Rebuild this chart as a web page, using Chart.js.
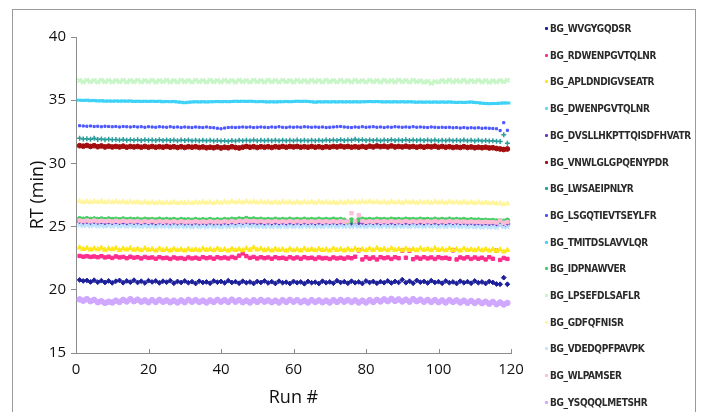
<!DOCTYPE html>
<html><head><meta charset="utf-8">
<script src="https://cdn.jsdelivr.net/npm/chart.js@4.4.1/dist/chart.umd.min.js"></script>
<style>
html,body{margin:0;padding:0;background:#fff;}
#wrap{position:relative;width:702px;height:412px;overflow:hidden;background:#fff;}
#frame{position:absolute;left:12px;top:9px;width:684px;height:430px;border:1px solid #9a9a9a;box-sizing:border-box;}
#c{position:absolute;left:0;top:0;}
#legend{position:absolute;left:550px;top:0;font-family:"DejaVu Sans Condensed","DejaVu Sans",sans-serif;font-weight:bold;font-size:10px;letter-spacing:-0.35px;color:#2a2a2a;}
.li{position:absolute;left:0;white-space:nowrap;line-height:12px;}
.mk{position:absolute;left:-5px;top:4px;width:3px;height:3px;border-radius:1px;}
.tx{position:absolute;left:0;top:0;}
</style></head>
<body><div id="wrap"><div id="frame"></div><canvas id="c" width="702" height="412"></canvas><div id="legend"></div></div>
<script>
const seriesNames = ["BG_WVGYGQDSR","BG_RDWENPGVTQLNR","BG_APLDNDIGVSEATR","BG_DWENPGVTQLNR","BG_DVSLLHKPTTQISDFHVATR","BG_VNWLGLGPQENYPDR","BG_LWSAEIPNLYR","BG_LSGQTIEVTSEYLFR","BG_TMITDSLAVVLQR","BG_IDPNAWVER","BG_LPSEFDLSAFLR","BG_GDFQFNISR","BG_VDEDQPFPAVPK","BG_WLPAMSER","BG_YSQQQLMETSHR"];
const xTicks = [0,20,40,60,80,100,120];
const yTicks = [15,20,25,30,35,40];

const WVGYGQDSR = [20.78,20.70,20.74,20.62,20.76,20.60,20.72,20.58,20.70,20.55,
20.68,20.74,20.56,20.70,20.60,20.76,20.58,20.68,20.54,20.72,
20.62,20.70,20.55,20.68,20.60,20.72,20.52,20.66,20.58,20.70,
20.56,20.64,20.50,20.68,20.58,20.62,20.52,20.70,20.60,20.66,
20.55,20.72,20.58,20.64,20.52,20.68,20.56,20.62,20.50,20.66,
20.58,20.70,20.54,20.64,20.50,20.68,20.56,20.60,20.50,20.66,
20.56,20.62,20.48,20.66,20.56,20.60,20.50,20.68,20.56,20.62,
20.52,20.72,20.58,20.64,20.52,20.68,20.56,20.62,20.50,20.70,
20.58,20.66,20.52,20.64,20.56,20.70,20.54,20.66,20.58,20.80,
20.56,20.68,20.52,20.74,20.60,20.66,20.54,20.72,20.58,20.64,
20.52,20.70,20.56,20.62,20.50,20.68,20.56,20.64,20.52,20.70,
20.56,20.62,20.50,20.66,20.58,20.46,20.44,20.96,20.44];
const RDWENPGVTQLNR = [22.68,22.62,22.66,22.60,22.64,22.58,22.66,22.56,22.62,22.52,
22.64,22.56,22.60,22.50,22.62,22.54,22.58,22.48,22.60,22.52,
22.56,22.46,22.58,22.50,22.54,22.44,22.56,22.48,22.52,22.44,
22.56,22.48,22.54,22.46,22.58,22.50,22.56,22.46,22.58,22.50,
22.56,22.48,22.60,22.52,22.70,22.88,22.66,22.52,22.60,22.48,
22.58,22.50,22.56,22.46,22.58,22.50,22.54,22.46,22.58,22.48,
22.56,22.46,22.58,22.50,22.54,22.44,22.56,22.48,22.52,22.44,
22.56,22.48,22.54,22.46,22.56,22.50,22.62,23.12,22.40,22.58,
22.46,22.56,22.40,22.58,22.50,22.56,22.44,22.58,22.50,23.10,
22.54,23.10,22.42,22.56,22.46,22.58,22.48,22.56,22.44,22.58,
22.50,22.54,22.46,23.12,22.40,22.56,22.48,22.58,22.44,22.56,
22.46,22.54,22.40,22.58,22.46,23.10,22.36,22.52,22.44];
const APLDNDIGVSEATR = [23.34,23.22,23.30,23.18,23.28,23.20,23.32,23.16,23.26,23.20,
23.30,23.14,23.26,23.18,23.30,23.16,23.24,23.12,23.28,23.16,
23.22,23.10,23.26,23.14,23.22,23.10,23.24,23.14,23.20,23.10,
23.24,23.14,23.20,23.12,23.26,23.16,23.22,23.12,23.26,23.14,
23.20,23.10,23.24,23.14,23.22,23.12,23.28,23.16,23.34,23.18,
23.26,23.12,23.22,23.10,23.24,23.14,23.20,23.10,23.24,23.12,
23.20,23.10,23.26,23.14,23.22,23.12,23.24,23.14,23.20,23.10,
23.26,23.14,23.22,23.10,23.24,23.12,23.26,23.14,23.20,23.12,
23.26,23.14,23.30,23.16,23.24,23.12,23.28,23.16,23.22,23.12,
23.26,23.14,23.22,23.12,23.28,23.16,23.24,23.12,23.30,23.14,
23.22,23.12,23.26,23.14,23.22,23.10,23.26,23.14,23.20,23.12,
23.24,23.12,23.22,23.10,23.20,23.08,23.18,23.02,23.14];
const DWENPGVTQLNR = [25.24,25.20,25.26,25.18,25.24,25.20,25.22,25.16,25.24,25.18,
25.22,25.16,25.24,25.18,25.20,25.14,25.22,25.16,25.20,25.14,
25.20,25.14,25.22,25.16,25.20,25.12,25.20,25.14,25.18,25.12,
25.16,25.10,25.18,25.12,25.16,25.10,25.18,25.12,25.16,25.12,
25.18,25.12,25.20,25.14,25.18,25.12,25.22,25.14,25.20,25.14,
25.18,25.12,25.20,25.14,25.18,25.12,25.20,25.14,25.18,25.12,
25.20,25.14,25.18,25.12,25.20,25.14,25.18,25.12,25.20,25.14,
25.18,25.12,25.20,25.14,25.18,25.12,25.22,25.14,25.20,25.12,
25.18,25.12,25.20,25.14,25.18,25.12,25.20,25.14,25.18,25.12,
25.20,25.14,25.18,25.12,25.20,25.14,25.18,25.12,25.20,25.14,
25.18,25.12,25.20,25.14,25.18,25.12,25.20,25.14,25.18,25.12,
25.16,25.10,25.16,25.10,25.14,25.08,25.12,25.06,25.14];
const DVSLLHKPTTQISDFHVATR = [25.42,25.34,25.40,25.32,25.38,25.30,25.40,25.32,25.36,25.30,
25.38,25.30,25.36,25.28,25.38,25.30,25.34,25.28,25.36,25.30,
25.34,25.26,25.34,25.28,25.32,25.26,25.34,25.26,25.32,25.24,
25.32,25.26,25.30,25.24,25.32,25.26,25.30,25.24,25.32,25.26,
25.32,25.26,25.34,25.28,25.36,25.30,25.40,25.32,25.36,25.28,
25.34,25.28,25.32,25.26,25.34,25.28,25.32,25.26,25.34,25.28,
25.32,25.26,25.34,25.28,25.32,25.26,25.34,25.28,25.32,25.26,
25.34,25.28,25.32,25.26,25.34,25.26,25.22,25.30,25.20,25.32,
25.34,25.28,25.32,25.26,25.34,25.28,25.32,25.26,25.34,25.28,
25.32,25.26,25.34,25.28,25.32,25.26,25.34,25.28,25.32,25.26,
25.34,25.28,25.32,25.26,25.34,25.28,25.32,25.26,25.30,25.24,
25.30,25.24,25.28,25.22,25.26,25.20,25.24,25.14,25.20];
const VNWLGLGPQENYPDR = [31.40,31.36,31.42,31.34,31.40,31.32,31.38,31.30,31.36,31.30,
31.34,31.30,31.36,31.28,31.34,31.30,31.34,31.28,31.34,31.28,
31.34,31.28,31.32,31.28,31.34,31.28,31.32,31.26,31.32,31.26,
31.32,31.28,31.32,31.26,31.30,31.24,31.28,31.24,31.30,31.22,
31.28,31.24,31.32,31.26,31.22,31.28,31.34,31.28,31.32,31.26,
31.32,31.28,31.32,31.26,31.32,31.28,31.34,31.28,31.34,31.30,
31.34,31.28,31.32,31.28,31.34,31.28,31.32,31.26,31.32,31.28,
31.34,31.30,31.36,31.30,31.34,31.28,31.32,31.28,31.34,31.28,
31.36,31.30,31.38,31.32,31.36,31.30,31.38,31.30,31.34,31.30,
31.36,31.30,31.34,31.28,31.34,31.28,31.34,31.30,31.36,31.28,
31.34,31.28,31.32,31.26,31.30,31.26,31.32,31.26,31.30,31.24,
31.28,31.24,31.28,31.22,31.24,31.18,31.14,31.10,31.14];
const LWSAEIPNLYR = [31.98,31.94,31.96,31.92,31.98,31.90,31.94,31.88,31.92,31.88,
31.90,31.86,31.90,31.84,31.88,31.84,31.88,31.82,31.88,31.84,
31.86,31.82,31.88,31.82,31.86,31.82,31.86,31.80,31.86,31.82,
31.86,31.80,31.84,31.80,31.84,31.80,31.84,31.78,31.82,31.78,
31.80,31.76,31.82,31.78,31.84,31.80,31.84,31.80,31.86,31.80,
31.84,31.80,31.84,31.80,31.84,31.80,31.84,31.80,31.84,31.80,
31.86,31.80,31.84,31.80,31.84,31.80,31.84,31.80,31.86,31.82,
31.86,31.82,31.88,31.82,31.86,31.84,31.92,31.84,31.88,31.82,
31.86,31.82,31.86,31.80,31.86,31.82,31.88,31.82,31.86,31.82,
31.88,31.82,31.86,31.82,31.86,31.82,31.86,31.80,31.86,31.80,
31.84,31.80,31.86,31.80,31.84,31.80,31.86,31.80,31.84,31.78,
31.84,31.78,31.82,31.78,31.80,31.76,31.74,32.26,31.60];
const LSGQTIEVTSEYLFR = [32.98,32.96,32.94,32.96,32.92,32.94,32.90,32.94,32.92,32.90,
32.92,32.88,32.92,32.90,32.88,32.92,32.88,32.90,32.86,32.90,
32.88,32.86,32.90,32.88,32.86,32.90,32.86,32.88,32.84,32.88,
32.86,32.84,32.88,32.86,32.84,32.88,32.84,32.82,32.78,32.74,
32.80,32.84,32.86,32.84,32.86,32.88,32.86,32.88,32.84,32.86,
32.88,32.86,32.84,32.88,32.86,32.90,32.86,32.84,32.88,32.86,
32.88,32.86,32.90,32.88,32.86,32.88,32.86,32.88,32.84,32.86,
32.88,32.90,32.92,32.88,32.86,32.84,32.88,32.86,32.90,32.86,
32.88,32.90,32.86,32.88,32.84,32.88,32.86,32.90,32.88,32.86,
32.88,32.86,32.90,32.86,32.88,32.86,32.84,32.88,32.86,32.84,
32.86,32.84,32.86,32.82,32.84,32.80,32.84,32.80,32.82,32.80,
32.82,32.78,32.80,32.78,32.76,32.74,32.60,33.22,32.62];
const TMITDSLAVVLQR = [35.00,34.98,35.00,34.96,34.98,34.94,34.96,34.92,34.94,34.92,
34.94,34.92,34.94,34.92,34.94,34.90,34.92,34.90,34.92,34.90,
34.92,34.90,34.92,34.88,34.90,34.88,34.90,34.86,34.84,34.80,
34.84,34.86,34.88,34.86,34.88,34.86,34.88,34.88,34.90,34.88,
34.90,34.88,34.90,34.92,34.90,34.92,34.90,34.92,34.90,34.88,
34.90,34.88,34.86,34.88,34.86,34.88,34.88,34.90,34.88,34.90,
34.92,34.90,34.92,34.90,34.88,34.84,34.88,34.86,34.88,34.86,
34.88,34.86,34.88,34.86,34.88,34.86,34.88,34.86,34.88,34.88,
34.90,34.88,34.90,34.88,34.86,34.88,34.86,34.88,34.86,34.88,
34.86,34.88,34.86,34.84,34.86,34.84,34.86,34.84,34.86,34.84,
34.86,34.84,34.86,34.84,34.82,34.84,34.82,34.84,34.86,34.82,
34.80,34.76,34.74,34.72,34.74,34.74,34.76,34.78,34.78];
const IDPNAWVER = [25.62,25.58,25.62,25.56,25.60,25.56,25.60,25.54,25.60,25.56,
25.58,25.54,25.60,25.54,25.58,25.54,25.58,25.52,25.58,25.54,
25.56,25.52,25.58,25.52,25.56,25.52,25.56,25.50,25.56,25.52,
25.54,25.50,25.56,25.50,25.54,25.50,25.56,25.50,25.54,25.50,
25.56,25.52,25.58,25.54,25.60,25.56,25.64,25.56,25.60,25.54,
25.58,25.52,25.56,25.52,25.58,25.52,25.56,25.52,25.58,25.52,
25.56,25.52,25.58,25.52,25.56,25.52,25.58,25.52,25.56,25.52,
25.58,25.52,25.56,25.50,25.30,25.52,25.30,25.54,25.58,25.52,
25.56,25.52,25.58,25.54,25.56,25.52,25.58,25.54,25.56,25.52,
25.58,25.54,25.56,25.52,25.58,25.54,25.56,25.52,25.58,25.52,
25.56,25.52,25.58,25.52,25.56,25.52,25.56,25.50,25.54,25.50,
25.52,25.48,25.50,25.46,25.48,25.44,25.46,25.42,25.50];
const LPSEFDLSAFLR = [36.56,36.44,36.58,36.46,36.56,36.44,36.58,36.46,36.56,36.44,
36.56,36.46,36.58,36.44,36.56,36.46,36.58,36.44,36.56,36.46,
36.58,36.44,36.56,36.46,36.58,36.44,36.56,36.44,36.58,36.46,
36.56,36.44,36.58,36.46,36.56,36.44,36.58,36.46,36.56,36.44,
36.58,36.46,36.56,36.44,36.58,36.46,36.56,36.44,36.58,36.46,
36.56,36.44,36.58,36.46,36.56,36.44,36.58,36.46,36.56,36.44,
36.58,36.46,36.56,36.44,36.58,36.46,36.56,36.44,36.58,36.46,
36.56,36.44,36.58,36.46,36.56,36.44,36.58,36.46,36.56,36.44,
36.58,36.46,36.56,36.44,36.58,36.46,36.56,36.44,36.58,36.46,
36.56,36.44,36.58,36.46,36.54,36.42,36.50,36.34,36.48,36.44,
36.56,36.46,36.58,36.44,36.56,36.46,36.58,36.44,36.56,36.46,
36.58,36.44,36.56,36.42,36.54,36.44,36.56,36.46,36.58];
const GDFQFNISR = [27.02,26.94,27.00,26.92,27.00,26.94,27.02,26.92,26.98,26.92,
27.00,26.92,26.98,26.90,26.98,26.90,26.96,26.88,26.96,26.88,
26.94,26.86,26.94,26.86,26.92,26.86,26.94,26.86,26.92,26.86,
26.92,26.86,26.94,26.88,26.96,26.88,26.94,26.86,26.96,26.88,
26.98,26.90,27.00,26.92,26.98,26.90,27.02,26.92,26.98,26.90,
26.98,26.90,26.96,26.88,26.96,26.88,26.98,26.90,26.96,26.88,
26.96,26.88,26.98,26.90,26.96,26.88,26.98,26.90,26.96,26.88,
26.94,26.86,26.96,26.88,26.98,26.90,26.98,26.90,27.00,26.92,
27.00,26.92,26.98,26.90,26.96,26.88,26.98,26.90,26.96,26.88,
26.98,26.90,26.96,26.88,26.98,26.90,26.96,26.88,26.98,26.90,
26.96,26.88,26.98,26.90,26.96,26.88,26.96,26.88,26.94,26.86,
26.94,26.86,26.92,26.84,26.90,26.82,26.84,26.76,26.82];
const VDEDQPFPAVPK = [25.12,25.06,25.10,25.04,25.10,25.04,25.08,25.02,25.08,25.02,
25.08,25.02,25.06,25.00,25.08,25.02,25.06,25.00,25.06,25.00,
25.04,24.98,25.06,25.00,25.04,24.98,25.04,24.98,25.04,24.98,
25.02,24.96,25.04,24.98,25.02,24.96,25.04,24.98,25.02,24.96,
25.04,24.98,25.06,25.00,25.08,25.02,25.10,25.02,25.06,25.00,
25.04,24.98,25.04,24.98,25.04,24.98,25.04,24.98,25.04,24.98,
25.04,24.98,25.06,25.00,25.04,24.98,25.04,24.98,25.06,25.00,
25.04,24.98,25.06,25.00,25.04,24.98,25.06,25.00,25.04,24.98,
25.06,25.00,25.04,24.98,25.06,25.00,25.04,24.98,25.06,25.00,
25.04,24.98,25.06,25.00,25.04,24.98,25.06,25.00,25.04,24.98,
25.04,24.98,25.06,25.00,25.04,24.98,25.02,24.96,25.02,24.96,
25.00,24.94,25.00,24.94,24.98,24.92,25.10,24.96,24.98];
const WLPAMSER = [25.48,25.44,25.48,25.42,25.48,25.42,25.46,25.42,25.46,25.40,
25.46,25.40,25.46,25.40,25.44,25.40,25.44,25.38,25.44,25.38,
25.44,25.38,25.42,25.38,25.42,25.36,25.42,25.36,25.42,25.36,
25.40,25.36,25.42,25.36,25.40,25.36,25.42,25.36,25.40,25.36,
25.42,25.38,25.44,25.38,25.46,25.40,25.48,25.42,25.44,25.40,
25.44,25.38,25.42,25.38,25.44,25.38,25.42,25.38,25.44,25.38,
25.42,25.38,25.44,25.38,25.42,25.38,25.44,25.38,25.42,25.38,
25.42,25.38,25.44,25.38,25.42,26.06,25.42,25.90,25.44,25.38,
25.42,25.38,25.44,25.38,25.42,25.38,25.44,25.38,25.42,25.38,
25.44,25.38,25.42,25.38,25.44,25.38,25.42,25.38,25.44,25.38,
25.42,25.38,25.44,25.38,25.42,25.38,25.40,25.36,25.40,25.36,
25.38,25.34,25.38,25.34,25.36,25.32,25.48,25.30,25.36];
const YSQQQLMETSHR = [19.24,19.14,19.26,19.10,19.20,19.02,19.10,18.96,19.06,19.00,
19.14,19.04,19.20,19.08,19.26,19.10,19.22,19.06,19.16,19.02,
19.18,19.04,19.20,19.06,19.16,19.02,19.14,19.00,19.16,19.02,
19.20,19.06,19.18,19.04,19.14,19.00,19.16,19.04,19.20,19.06,
19.18,19.04,19.22,19.06,19.18,19.02,19.14,19.00,19.18,19.04,
19.20,19.06,19.16,19.02,19.14,19.00,19.18,19.04,19.20,19.06,
19.18,19.02,19.14,19.00,19.18,19.04,19.16,19.02,19.14,19.00,
19.18,19.04,19.20,19.06,19.18,19.04,19.16,19.00,19.14,19.00,
19.18,19.04,19.20,19.08,19.24,19.10,19.28,19.12,19.24,19.08,
19.22,19.06,19.26,19.10,19.22,19.06,19.20,19.04,19.18,19.02,
19.16,19.00,19.18,19.04,19.16,19.00,19.14,18.98,19.12,18.96,
19.10,18.94,19.06,18.90,19.04,18.86,19.00,18.84,18.96];

const seriesValues = [WVGYGQDSR,RDWENPGVTQLNR,APLDNDIGVSEATR,DWENPGVTQLNR,DVSLLHKPTTQISDFHVATR,VNWLGLGPQENYPDR,LWSAEIPNLYR,LSGQTIEVTSEYLFR,TMITDSLAVVLQR,IDPNAWVER,LPSEFDLSAFLR,GDFQFNISR,VDEDQPFPAVPK,WLPAMSER,YSQQQLMETSHR];

const colors = ['#1c1f9a','#ff2d8c','#ffe61a','#62d8f5','#6a33c4','#a30d0d','#2a9c9c','#4a55ff','#3fd2f7','#3fcf5f','#c6f6c6','#fff59c','#c4e2ff','#ffbcd8','#d0a8ff'];
const styles = ['rectRot','rect','triangle','crossRot','star','circle','cross','rect','line','circle','crossRot','triangle','crossRot','rect','circle'];
const radii = [2.4,2.4,2.8,2.5,2.8,2.4,2.5,1.5,3,2.3,3,2.8,3,2.4,2.8];
const widths = [1,1,1,1.5,1.5,1,1.5,1,3,1,2,1,1.5,1,1];

const datasets = seriesValues.map((vals,i)=>({
  label: seriesNames[i],
  data: vals.map((v,j)=>({x:j+1,y:v})),
  showLine:false,
  pointStyle: styles[i],
  pointRadius: radii[i],
  pointHoverRadius: radii[i],
  pointBorderWidth: widths[i],
  borderColor: colors[i],
  backgroundColor: colors[i],
  order: 20-i,
  clip:false
}));

const tickPlugin = {
  id:'xTicksUp',
  afterDraw(chart){
    const {ctx, scales:{x}, chartArea} = chart;
    ctx.save();
    ctx.strokeStyle='#8c8c8c'; ctx.lineWidth=1;
    xTicks.forEach(t=>{
      const px=Math.round(x.getPixelForValue(t))+0.5;
      ctx.beginPath(); ctx.moveTo(px, chartArea.bottom); ctx.lineTo(px, chartArea.bottom-4); ctx.stroke();
    });
    ctx.restore();
  }
};

const fontFam = '"Open Sans", "DejaVu Sans", sans-serif';
new Chart(document.getElementById('c'), {
  type:'scatter',
  data:{datasets},
  plugins:[tickPlugin],
  options:{
    responsive:false, animation:false, devicePixelRatio:1,
    layout:{padding:{left:0,top:37,right:191,bottom:0}},
    plugins:{legend:{display:false}, tooltip:{enabled:false}},
    scales:{
      x:{type:'linear', min:0, max:120,
        afterFit(s){s.height=59;},
        afterBuildTicks(s){s.ticks = xTicks.map(v=>({value:v}));},
        grid:{display:true, drawOnChartArea:false, drawTicks:false, color:'#8c8c8c'},
        border:{color:'#8c8c8c', width:1},
        ticks:{padding:8, color:'#111', font:{family:fontFam, size:15}},
        title:{display:true, text:'Run #', color:'#111', font:{family:fontFam, size:18}, padding:{top:0,bottom:3}}
      },
      y:{type:'linear', min:15, max:40,
        afterFit(s){s.width=76;},
        afterBuildTicks(s){s.ticks = yTicks.map(v=>({value:v}));},
        grid:{display:true, drawOnChartArea:false, drawTicks:true, tickLength:5, color:'#8c8c8c'},
        border:{color:'#8c8c8c', width:1},
        ticks:{padding:5, color:'#111', font:{family:fontFam, size:15}},
        title:{display:true, text:'RT (min)', color:'#111', font:{family:fontFam, size:18}, padding:{top:27,bottom:0}}
      }
    }
  }
});

const leg = document.getElementById('legend');
seriesNames.forEach((n,i)=>{
  const d=document.createElement('div'); d.className='li';
  d.style.top=(29+i*26.7-6)+'px';
  const m=document.createElement('span'); m.className='mk'; m.style.background=colors[i];
  const t=document.createElement('span'); t.className='tx'; t.textContent=n;
  d.appendChild(m); d.appendChild(t); leg.appendChild(d);
});
</script>
</body></html>
